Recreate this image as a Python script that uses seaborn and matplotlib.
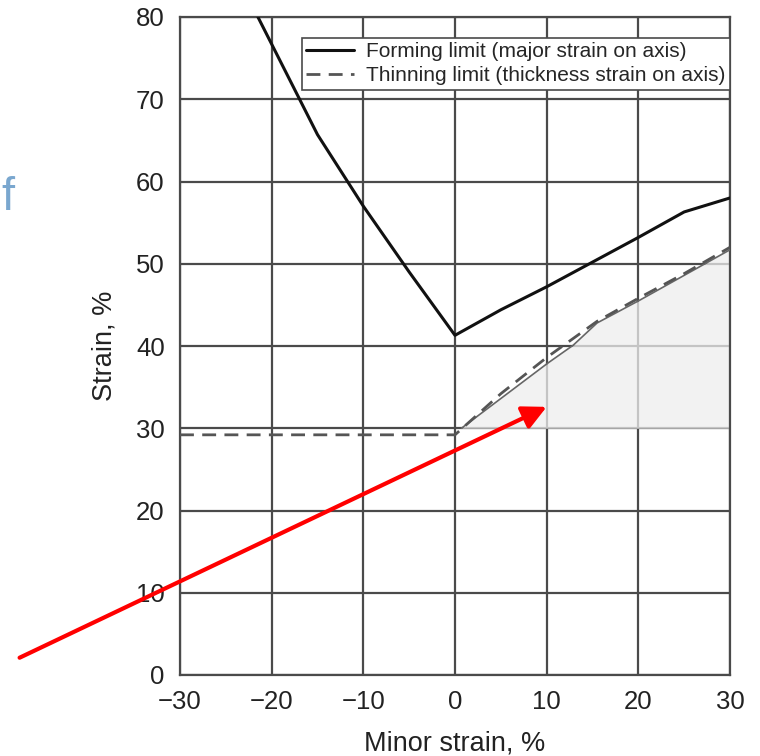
import matplotlib
matplotlib.use("Agg")
import matplotlib.pyplot as plt
import seaborn as sns
import pandas as pd

# Forming limit curve (major strain vs minor strain)
forming_minor = [-21.5, -15, -10, -5, 0, 5, 10, 15, 20, 25, 30]
forming_major = [80, 65.7, 57, 49, 41.3, 44.4, 47.2, 50.2, 53.2, 56.3, 58]

# Thinning limit curve (thickness strain on axis)
thin_minor = [-30, 0, 5, 10, 15.5, 20, 25, 30]
thin_major = [29.2, 29.2, 34.2, 38.6, 43.0, 45.8, 48.8, 52]

# Safe-zone boundary above the thinning plateau
safe_minor = [0.7, 10.1, 12.9, 15.5, 20.2, 30]
safe_major = [30, 37.9, 40.1, 42.8, 45.6, 51.7]
safe_floor = 30

x_ticks = [-30, -20, -10, 0, 10, 20, 30]
y_ticks = [0, 10, 20, 30, 40, 50, 60, 70, 80]

sns.set_theme(style="white")
plt.rcParams["font.family"] = ["Liberation Sans", "DejaVu Sans"]
plt.rcParams["axes.unicode_minus"] = True

fig = plt.figure(figsize=(7.6, 7.56), dpi=100)
ax = fig.add_axes([180 / 760, 81 / 756, 550 / 760, 658 / 756])

grid_c = "#4a4a4a"
text_c = "#222222"
ax.set_xlim(-30, 30)
ax.set_ylim(0, 80)
ax.set_xticks(x_ticks)
ax.set_yticks(y_ticks)
ax.set_xticklabels([f"\u2212{abs(v)}" if v < 0 else str(v) for v in x_ticks])
ax.grid(True, color=grid_c, linewidth=1.6)
ax.set_axisbelow(True)
for s in ax.spines.values():
    s.set_color(grid_c)
    s.set_linewidth(1.6)
ax.tick_params(axis="both", colors=text_c, labelsize=18.5, direction="out",
               length=6, width=1.6, color=grid_c, pad=5)

# shaded safe region
ax.fill_between(safe_minor, safe_floor, safe_major, color="#eeeeee",
                alpha=0.75, linewidth=0, zorder=2)
sns.lineplot(x=safe_minor, y=safe_major, ax=ax, color="#666666",
             linewidth=1.2, sort=False, zorder=3)

fl = pd.DataFrame({"minor": forming_minor, "major": forming_major})
tl = pd.DataFrame({"minor": thin_minor, "major": thin_major})
sns.lineplot(data=fl, x="minor", y="major", ax=ax, color="#111111",
             linewidth=2.2, sort=False, zorder=4,
             label="Forming limit (major strain on axis)")
sns.lineplot(data=tl, x="minor", y="major", ax=ax, color="#555555",
             linewidth=2.0, sort=False, zorder=4, dashes=False,
             linestyle=(0, (5, 3)),
             label="Thinning limit (thickness strain on axis)")

leg = ax.legend(loc="upper right", bbox_to_anchor=(1.0, 0.968),
                fontsize=15, frameon=True, fancybox=False,
                borderaxespad=0, handlelength=2.3, handletextpad=0.6,
                borderpad=0.2, labelspacing=0.25)
leg.get_frame().set_edgecolor(grid_c)
leg.get_frame().set_linewidth(1.2)
leg.get_frame().set_alpha(1)

ax.set_xlabel("Minor strain, %", fontsize=19.5, color=text_c, labelpad=12)
ax.set_ylabel("Strain, %", fontsize=19.5, color=text_c, labelpad=13)

# red pointer into the safe region
ax.annotate("", xy=(10.0, 32.6), xytext=(-47.5, 2.1),
            arrowprops=dict(arrowstyle="-|>,head_length=1.2,head_width=0.6",
                            color="#ff0000", lw=3, shrinkA=0, shrinkB=0),
            annotation_clip=False, zorder=6)

fig.text(0.002, 0.722, "f", fontsize=34, color="#7aa7cf",
         family=["Liberation Sans", "DejaVu Sans"])

fig.savefig("out.png", dpi=100)
